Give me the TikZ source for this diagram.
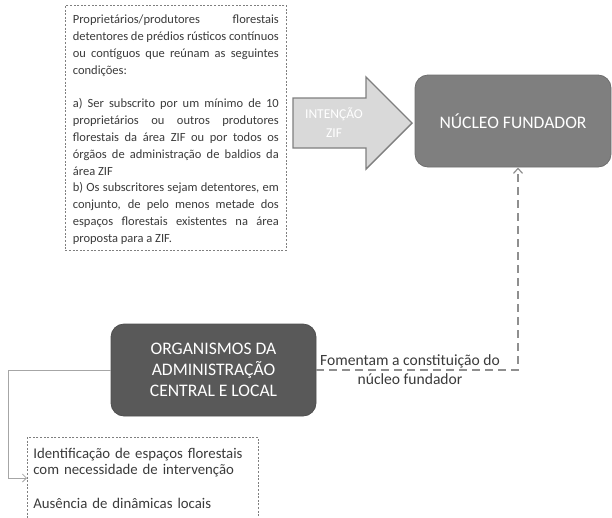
\documentclass[tikz,border=0pt]{standalone}
\usepackage{fontspec}
\setmainfont{Carlito}
\usetikzlibrary{arrows.meta}
\definecolor{txt}{HTML}{3A3A3A}
\definecolor{frame}{HTML}{7F7F7F}
\definecolor{nucfill}{HTML}{7F7F7F}
\definecolor{nucdraw}{HTML}{6E6E6E}
\definecolor{orgfill}{HTML}{595959}
\definecolor{orgdraw}{HTML}{4F4F4F}
\definecolor{arrfill}{HTML}{D9D9D9}
\definecolor{arrdraw}{HTML}{7F7F7F}
\definecolor{dcon}{HTML}{8F8F8F}
\definecolor{scon}{HTML}{A6A6A6}
\tikzset{
  notebox/.style={draw=frame, line width=0.7pt, dash pattern=on 2pt off 1.6pt, text=txt, align=justify, anchor=north west},
  darkbox/.style={rounded corners=13pt, text=white, align=center, font=\fontsize{17.6}{21}\selectfont},
  dashconn/.style={draw=dcon, line width=2.4pt, dash pattern=on 8pt off 5pt, -{Straight Barb[length=5pt,width=9pt,line width=1.2pt]}},
  plainconn/.style={draw=scon, line width=0.9pt, -{Straight Barb[length=4pt,width=8pt,line width=0.8pt]}},
}
\begin{document}
\begin{tikzpicture}[x=1pt,y=-1pt]
\useasboundingbox (0,0) rectangle (612,517);
% conditions box
\node[notebox, text width=206pt, inner xsep=7.5pt, inner ysep=0pt, minimum width=221pt, minimum height=245pt,
      font=\fontsize{12.5}{16.8}\selectfont] (cond) at (65,5)
{\hyphenpenalty=10000\exhyphenpenalty=10000\hbadness=10000
Proprietários/produtores florestais\linebreak detentores de prédios rústicos contínuos\linebreak ou contíguos que reúnam as seguintes\linebreak condições:\par\vskip16.8pt
a) Ser subscrito por um mínimo de 10\linebreak proprietários ou outros produtores\linebreak florestais da área ZIF ou por todos os\linebreak órgãos de administração de baldios da\linebreak área ZIF\par
b) Os subscritores sejam detentores, em\linebreak conjunto, de pelo menos metade dos\linebreak espaços florestais existentes na área\linebreak proposta para a ZIF.\par\kern-4pt};
% intention arrow
\draw[fill=arrfill, draw=arrdraw, line width=1.4pt, line join=miter]
  (293,98) -- (366,98) -- (366,77) -- (412,123) -- (366,169) -- (366,148) -- (293,148) -- cycle;
\node[text=white, align=center, font=\fontsize{13.5}{19}\selectfont] (int) at (334,123) {INTENÇÃO\\ZIF};
% nucleo
\node[darkbox, fill=nucfill, draw=nucdraw, line width=0.8pt, minimum width=196pt, minimum height=92pt] (nuc) at (513,121) {NÚCLEO FUNDADOR};
% organismos
\node[darkbox, fill=orgfill, draw=orgdraw, line width=0.8pt, minimum width=205pt, minimum height=92pt] (org) at (213.5,370) {ORGANISMOS DA\\ADMINISTRAÇÃO\\CENTRAL E LOCAL};
% bottom box
\node[notebox, align=left, text width=219pt, inner xsep=6pt, inner ysep=10.5pt, font=\fontsize{14.8}{16.5}\selectfont] (ident) at (27,437)
{Identificação de espaços florestais\par com necessidade de intervenção\par\vskip17.5pt
Ausência de dinâmicas locais\par\vskip60pt};
\coordinate (identin) at (27,478);
\coordinate (nucin) at (518,167.5);
% connectors
\draw[dashconn] (org.east) -| (nucin);
\node[text=txt, align=center, font=\fontsize{15.6}{19}\selectfont] (lbl) at (410,369.5) {Fomentam a constituição do\\núcleo fundador};
\draw[plainconn] (org.west) -- ++(-102,0) |- (identin);
\end{tikzpicture}
\end{document}
